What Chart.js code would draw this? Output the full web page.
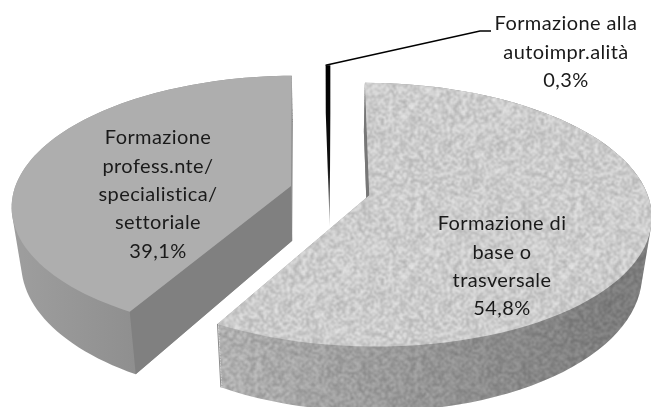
<!DOCTYPE html>
<html>
<head>
<meta charset="utf-8">
<style>
html, body { margin: 0; padding: 0; background: #fff; }
canvas { display: block; }
</style>
<script src="https://cdn.jsdelivr.net/npm/chart.js@4"></script>
</head>
<body>
<canvas id="pie3d" width="651" height="407"></canvas>
<script>
// slices, clockwise from the top
var categories = [
  ["Formazione alla", "autoimpr.alità"],
  ["Formazione di", "base o", "trasversale"],
  ["Formazione", "profess.nte/", "specialistica/", "settoriale"]
];
var values = [0.3, 54.8, 39.1];

// fake 3d look: tilt, perspective, explode, height
var tiltX = 1.454, tiltY = 0.67, persp = 0.146, explode = 0.146, depth = 55, farScale = 0.97;
var labelPos = [[566, 24], [502, 224], [158, 138]];
var lineGap = 28.3;

// soft grainy tile for the big slice, smoothed with wrap-around so it has no seams
function grain(base, spread) {
  var size = 160, cell = 2, n = size / cell, seed = 12345, noise = [];
  for (var i = 0; i < n * n; i++) {
    seed = (seed * 1103515245 + 12345) & 0x7fffffff;
    noise.push(((seed >> 16) % 201) / 100 - 1);
  }
  var tile = document.createElement('canvas');
  tile.width = tile.height = size;
  var c = tile.getContext('2d'), img = c.createImageData(size, size);
  for (var y = 0; y < size; y++) {
    for (var x = 0; x < size; x++) {
      var sum = 0;
      for (var dy = -1; dy <= 1; dy++) {
        for (var dx = -1; dx <= 1; dx++) {
          var cx = Math.floor(((x + dx + size) % size) / cell);
          var cy = Math.floor(((y + dy + size) % size) / cell);
          sum += noise[cy * n + cx];
        }
      }
      var g = base + spread * sum / 9, k = (y * size + x) * 4;
      img.data[k] = img.data[k + 1] = img.data[k + 2] = g;
      img.data[k + 3] = 255;
    }
  }
  c.putImageData(img, 0, 0);
  return tile;
}

function projector(arc) {
  var mid = (arc.startAngle + arc.endAngle) / 2;
  var ox = Math.cos(mid) * explode, oy = Math.sin(mid) * explode;
  var R = arc.outerRadius;
  // z goes from 0 (top face) to 1 (bottom face)
  return function (u, v, z) {
    var U = u + ox, V = v + oy, den = 1 - persp * V;
    return {
      x: arc.x + R * tiltX * U / den * (1 - (1 - farScale) * z),
      y: arc.y + R * tiltY * V / den + depth * z / den
    };
  };
}

function slicePoints(P, a0, a1, z) {
  var pts = [P(0, 0, z)], n = 80;
  for (var i = 0; i <= n; i++) {
    var a = a0 + (a1 - a0) * i / n;
    pts.push(P(Math.cos(a), Math.sin(a), z));
  }
  return pts;
}

function addPoly(path, pts) {
  pts.forEach(function (p, i) { if (i) path.lineTo(p.x, p.y); else path.moveTo(p.x, p.y); });
  path.closePath();
}

function fillPoly(ctx, pts, style) {
  var p = new Path2D();
  addPoly(p, pts);
  ctx.fillStyle = style;
  ctx.fill(p);
}

function sidePath(P, a0, a1) {
  var path = new Path2D();
  for (var z = 0; z <= 40; z++) addPoly(path, slicePoints(P, a0, a1, z / 40));
  return path;
}

function cutFace(P, a) {
  var u = Math.cos(a), v = Math.sin(a);
  return [P(0, 0, 0), P(0, 0, 1), P(u, v, 1), P(u, v, 0)];
}

var pie3d = {
  id: 'pie3d',
  beforeDatasetDraw: function (chart, args) {
    var ctx = chart.ctx, arcs = chart.getDatasetMeta(args.index).data;
    var grainTop = ctx.createPattern(grain(204, 24), 'repeat');
    var grainWall = ctx.createPattern(grain(176, 22), 'repeat');

    ctx.save();

    // small slice: black, fading to grey on its way down
    var a = arcs[0], P = projector(a);
    var c = P(0, 0, 0), cl = P(0, 0, 1);
    var g = ctx.createLinearGradient(0, c.y - 100, 0, cl.y);
    g.addColorStop(0, '#000000');
    g.addColorStop(0.62, '#111111');
    g.addColorStop(1, '#b0b0b0');
    ctx.fillStyle = g;
    ctx.fill(sidePath(P, a.startAngle, a.endAngle));

    // big slice
    a = arcs[1]; P = projector(a);
    var side = sidePath(P, a.startAngle, a.endAngle);
    ctx.fillStyle = grainWall;
    ctx.fill(side);
    g = ctx.createLinearGradient(221, 0, 620, 0);
    g.addColorStop(0, '#ffffff');
    g.addColorStop(0.5, '#d8d8d8');
    g.addColorStop(1, '#b4b4b4');
    ctx.globalCompositeOperation = 'multiply';
    ctx.fillStyle = g;
    ctx.fill(side);
    ctx.globalCompositeOperation = 'source-over';
    fillPoly(ctx, cutFace(P, a.startAngle), '#777777');
    var eu = Math.cos(a.endAngle), ev = Math.sin(a.endAngle);
    var e0 = P(eu, ev, 0), e1 = P(eu, ev, 1);
    ctx.beginPath();
    ctx.moveTo(e0.x, e0.y);
    ctx.lineTo(e1.x, e1.y);
    ctx.strokeStyle = '#8a8a8a';
    ctx.lineWidth = 1;
    ctx.stroke();
    fillPoly(ctx, slicePoints(P, a.startAngle, a.endAngle, 0), grainTop);

    // other slice
    a = arcs[2]; P = projector(a);
    g = ctx.createLinearGradient(14, 0, 135, 0);
    g.addColorStop(0, '#9e9e9e');
    g.addColorStop(1, '#8f8f8f');
    ctx.fillStyle = g;
    ctx.fill(sidePath(P, a.startAngle, a.endAngle));
    fillPoly(ctx, cutFace(P, a.startAngle), '#808080');
    fillPoly(ctx, slicePoints(P, a.startAngle, a.endAngle, 0), '#aeaeae');

    // leader line for the small slice
    P = projector(arcs[0]);
    var tip = P(Math.cos(arcs[0].startAngle), Math.sin(arcs[0].startAngle), 0);
    ctx.beginPath();
    ctx.moveTo(tip.x, tip.y);
    ctx.lineTo(480, 31);
    ctx.lineTo(491, 31);
    ctx.strokeStyle = '#000';
    ctx.lineWidth = 1.4;
    ctx.stroke();

    // labels
    ctx.font = '20px Lato';
    ctx.letterSpacing = '0.4px';
    ctx.fillStyle = '#1a1a1a';
    ctx.textAlign = 'center';
    ctx.textBaseline = 'middle';
    categories.forEach(function (lines, i) {
      var rows = lines.concat(values[i].toFixed(1).replace('.', ',') + '%');
      rows.forEach(function (t, j) {
        ctx.fillText(t, labelPos[i][0], labelPos[i][1] + j * lineGap);
      });
    });
    ctx.restore();
    return false;
  }
};

new Chart(document.getElementById('pie3d').getContext('2d'), {
  type: 'pie',
  data: {
    labels: categories.map(function (l) { return l.join(' '); }),
    datasets: [{ data: values, borderWidth: 0 }]
  },
  options: {
    responsive: false,
    animation: false,
    rotation: -1,
    layout: { padding: { left: 9, bottom: 26 } },
    plugins: { legend: { display: false }, tooltip: { enabled: false } }
  },
  plugins: [pie3d]
});
</script>
</body>
</html>
